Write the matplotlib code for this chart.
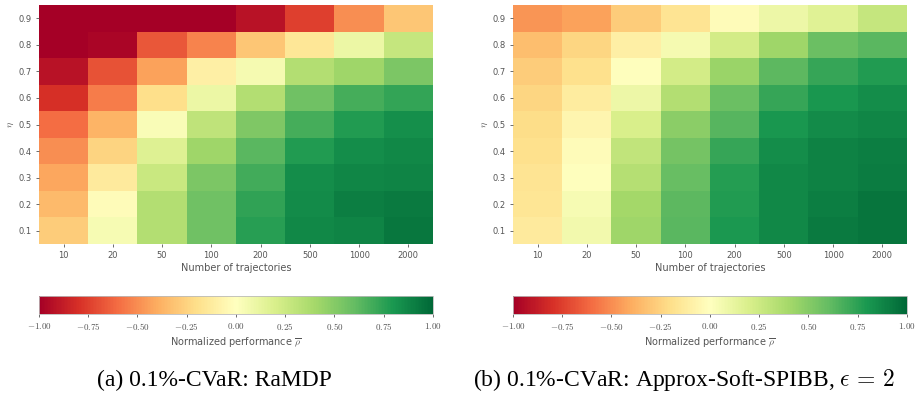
import numpy as np
import matplotlib
matplotlib.use('Agg')
from matplotlib import pyplot as plt

plt.rcParams['mathtext.fontset'] = 'cm'

# data: rows are eta = 0.9 (top) ... 0.1 (bottom), columns are number of trajectories
n_traj = ['10', '20', '50', '100', '200', '500', '1000', '2000']
etas = ['0.9', '0.8', '0.7', '0.6', '0.5', '0.4', '0.3', '0.2', '0.1']

ramdp = [
    [-1.00, -1.00, -1.00, -1.00, -0.92, -0.75, -0.50, -0.30],
    [-1.00, -0.97, -0.67, -0.53, -0.30, -0.15, 0.10, 0.28],
    [-0.92, -0.68, -0.43, -0.10, 0.05, 0.35, 0.42, 0.53],
    [-0.80, -0.55, -0.20, 0.10, 0.35, 0.57, 0.68, 0.73],
    [-0.60, -0.37, 0.03, 0.30, 0.52, 0.68, 0.78, 0.83],
    [-0.50, -0.25, 0.17, 0.42, 0.63, 0.78, 0.84, 0.86],
    [-0.42, -0.13, 0.26, 0.53, 0.69, 0.84, 0.87, 0.88],
    [-0.35, -0.02, 0.35, 0.57, 0.74, 0.85, 0.90, 0.92],
    [-0.28, 0.04, 0.35, 0.57, 0.76, 0.86, 0.88, 0.93],
]

soft_spibb = [
    [-0.47, -0.43, -0.28, -0.17, -0.02, 0.09, 0.16, 0.28],
    [-0.33, -0.24, -0.10, 0.05, 0.22, 0.42, 0.58, 0.63],
    [-0.28, -0.19, 0.00, 0.22, 0.43, 0.62, 0.72, 0.78],
    [-0.24, -0.12, 0.09, 0.35, 0.58, 0.72, 0.80, 0.84],
    [-0.21, -0.06, 0.20, 0.48, 0.64, 0.80, 0.85, 0.87],
    [-0.19, -0.02, 0.29, 0.55, 0.72, 0.84, 0.89, 0.90],
    [-0.17, 0.00, 0.34, 0.59, 0.77, 0.86, 0.89, 0.91],
    [-0.16, 0.04, 0.40, 0.62, 0.78, 0.86, 0.90, 0.94],
    [-0.13, 0.07, 0.42, 0.63, 0.79, 0.86, 0.92, 0.94],
]

captions = ['(a) 0.1%-CVaR: RaMDP',
            r'(b) 0.1%-CVaR: Approx-Soft-SPIBB, $\epsilon\,=\,2$']
cbar_ticks = [-1.0, -0.75, -0.5, -0.25, 0.0, 0.25, 0.5, 0.75, 1.0]

fig = plt.figure(figsize=(9.15, 4.01), dpi=100)
gray = '#555555'

lefts = [39 / 915, 513 / 915]
cap_x = [0.2344, 0.7475]
for k, data in enumerate([ramdp, soft_spibb]):
    ax = fig.add_axes([lefts[k], 0.3915, 0.4306, 0.596])
    im = ax.imshow(np.array(data), cmap='RdYlGn', vmin=-1, vmax=1, aspect='auto',
                   interpolation='nearest')
    ax.set_xticks(range(len(n_traj)))
    ax.set_xticklabels(n_traj)
    ax.set_yticks(range(len(etas)))
    ax.set_yticklabels(etas)
    ax.tick_params(labelsize=6, colors=gray, length=2, width=0.6, pad=3)
    for s in ax.spines.values():
        s.set_visible(False)
    ax.set_xlabel('Number of trajectories', fontsize=7, color=gray, labelpad=2)
    ax.set_ylabel(r'$\eta$', fontsize=7, color=gray, labelpad=2)

    cax = fig.add_axes([lefts[k], 0.217, 0.4306, 0.045])
    cb = fig.colorbar(im, cax=cax, orientation='horizontal', ticks=cbar_ticks)
    cb.ax.set_xticklabels(['$%.2f$' % t for t in cbar_ticks])
    cb.ax.tick_params(labelsize=6.5, colors=gray, length=2, width=0.6, pad=3)
    cb.outline.set_edgecolor('#bbbbbb')
    cb.outline.set_linewidth(0.6)
    cb.set_label(r'Normalized performance $\overline{\rho}$', fontsize=7, color=gray, labelpad=2)

    fig.text(cap_x[k], 0.052, captions[k], ha='center', va='center',
             family='Liberation Serif', math_fontfamily='cm', fontsize=17)

fig.savefig('out.png', dpi=100)
